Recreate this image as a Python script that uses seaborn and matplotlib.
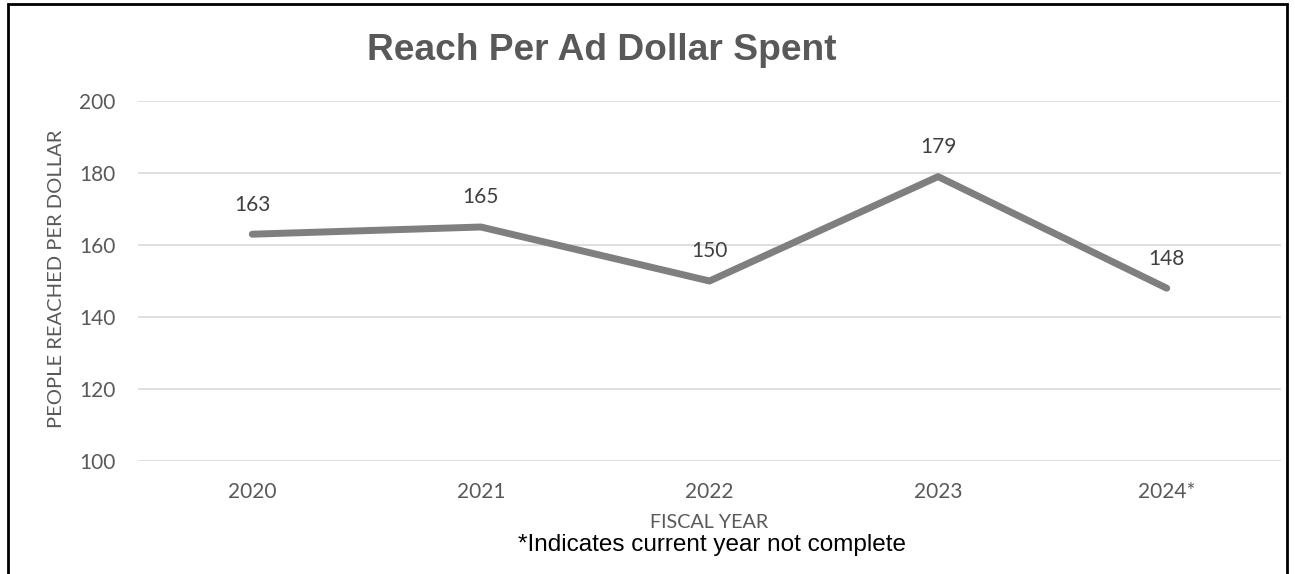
import matplotlib
matplotlib.use("Agg")
import matplotlib.pyplot as plt
import seaborn as sns
import pandas as pd
from matplotlib.patches import Rectangle

# chart data
years = ["2020", "2021", "2022", "2023", "2024*"]
reach = [163, 165, 150, 179, 148]
y_ticks = [100, 120, 140, 160, 180, 200]

df = pd.DataFrame({"year": years, "reach": reach})

sns.set_theme(style="white")
plt.rcParams["font.family"] = ["Lato", "DejaVu Sans"]

W, H = 1295, 574
fig = plt.figure(figsize=(W / 100, H / 100), dpi=100)
ax = fig.add_axes([138 / W, 1 - 461 / H, (1281 - 138) / W, (461 - 101) / H])

sns.lineplot(data=df, x="year", y="reach", ax=ax, color="#7f7f7f",
             linewidth=5, sort=False)
ax.set_xlim(-0.5, 4.5)
ax.set_ylim(100, 200)
ax.set_yticks(y_ticks)
ax.yaxis.grid(True, color="#d9d9d9", linewidth=1.2)
ax.xaxis.grid(False)
for s in ax.spines.values():
    s.set_visible(False)
ax.tick_params(axis="both", length=0, labelsize=15, labelcolor="#595959")
ax.tick_params(axis="x", pad=15)
ax.tick_params(axis="y", pad=16)
ax.set_xlabel("")
ax.set_ylabel("")

# data labels above the points
for i, v in enumerate(reach):
    ax.annotate(str(v), (i, v), xytext=(0, 17), textcoords="offset points",
                ha="center", va="baseline", fontsize=15, color="#404040")

fig.text(57 / W, 1 - 279 / H, "PEOPLE REACHED PER DOLLAR", rotation=90,
         ha="center", va="center", fontsize=14.5, color="#595959")
fig.text(709 / W, 1 - 522 / H, "FISCAL YEAR", ha="center", va="center",
         fontsize=14.2, color="#595959")
fig.text(712 / W, 1 - 545 / H, "*Indicates current year not complete",
         ha="center", va="center", fontsize=17.5, color="black",
         family=["Liberation Sans", "DejaVu Sans"])
fig.text(602 / W, 1 - 50 / H, "Reach Per Ad Dollar Spent", ha="center",
         va="center", fontsize=26.7, fontweight="bold", color="#595959",
         family=["Liberation Sans", "DejaVu Sans"])

# outer border (bottom cut off)
fig.patches.append(Rectangle((8 / W, -0.05), (1287 - 8) / W, 1.05 - 4 / H,
                             transform=fig.transFigure, fill=False,
                             edgecolor="black", linewidth=2))

fig.savefig("out.png", dpi=100)
